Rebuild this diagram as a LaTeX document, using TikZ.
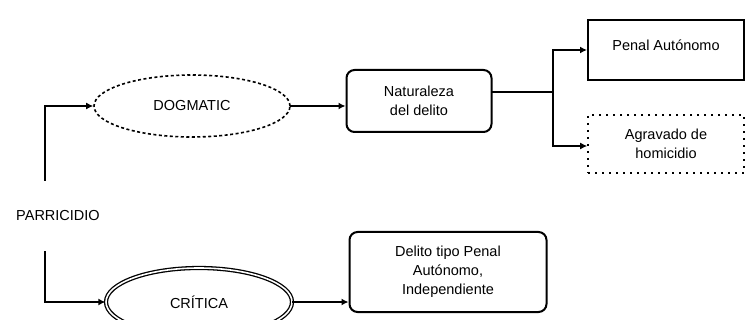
\documentclass[tikz,border=0pt]{standalone}
\usepackage{fontspec}
\setmainfont{Liberation Sans}
\usetikzlibrary{shapes.geometric,arrows.meta}
\begin{document}
\begin{tikzpicture}[x=1pt,y=-1pt,
  conn/.style={line width=1.6pt,line cap=rect},
  arr/.style={conn,-{Latex[length=7pt,width=7pt]}},
  lbl/.style={font=\fontsize{14.5}{19}\selectfont,align=center},
  dotell/.style={ellipse,draw,line width=1.6pt,dash pattern=on 3pt off 2.5pt,minimum width=196pt,minimum height=62pt,inner sep=0pt},
  dblell/.style={ellipse,draw,double,double distance=1.6pt,line width=1.3pt,minimum width=186pt,minimum height=68pt,inner sep=0pt},
  rbox/.style={draw,line width=2pt,rounded corners=8pt,inner sep=0pt},
  sbox/.style={draw,line width=2pt,inner sep=0pt},
  dbox/.style={draw,line width=1.6pt,dash pattern=on 2pt off 5pt,inner sep=0pt}]
\useasboundingbox (0,0) rectangle (746,320);
\node[lbl,inner xsep=2pt,inner ysep=30pt] (par) at (58,216) {PARRICIDIO};
\coordinate (vx) at (45,0);
\node[dotell,lbl] (dog) at (192,106) {DOGMATIC};
\node[dblell,lbl] (cri) at (199,302) {CRÍTICA};
\node[rbox,lbl,minimum width=145pt,minimum height=62pt] (nat) at (419,101) {Naturaleza\\del delito};
\node[sbox,lbl,minimum width=156pt,minimum height=60pt] (pen) at (666,50) {\raisebox{9pt}{Penal Autónomo}};
\node[dbox,lbl,minimum width=156pt,minimum height=58pt] (agr) at (666,144) {Agravado de\\homicidio};
\node[rbox,lbl,minimum width=197pt,minimum height=80pt] (del) at (448,272) {Delito tipo Penal\\Autónomo,\\Independiente};
\coordinate (j) at (553,92);
\draw[arr] (par.north -| vx) |- (dog.west);
\draw[arr] (par.south -| vx) |- (cri.west);
\draw[arr] (dog.east) -- (nat.west |- dog.east);
\draw[arr] (cri.east) -- (del.west |- cri.east);
\draw[conn] (j -| nat.east) -- (j);
\draw[arr] (j) |- (pen.west);
\draw[arr] (j) |- (agr.west |- 0,146);
\end{tikzpicture}
\end{document}
